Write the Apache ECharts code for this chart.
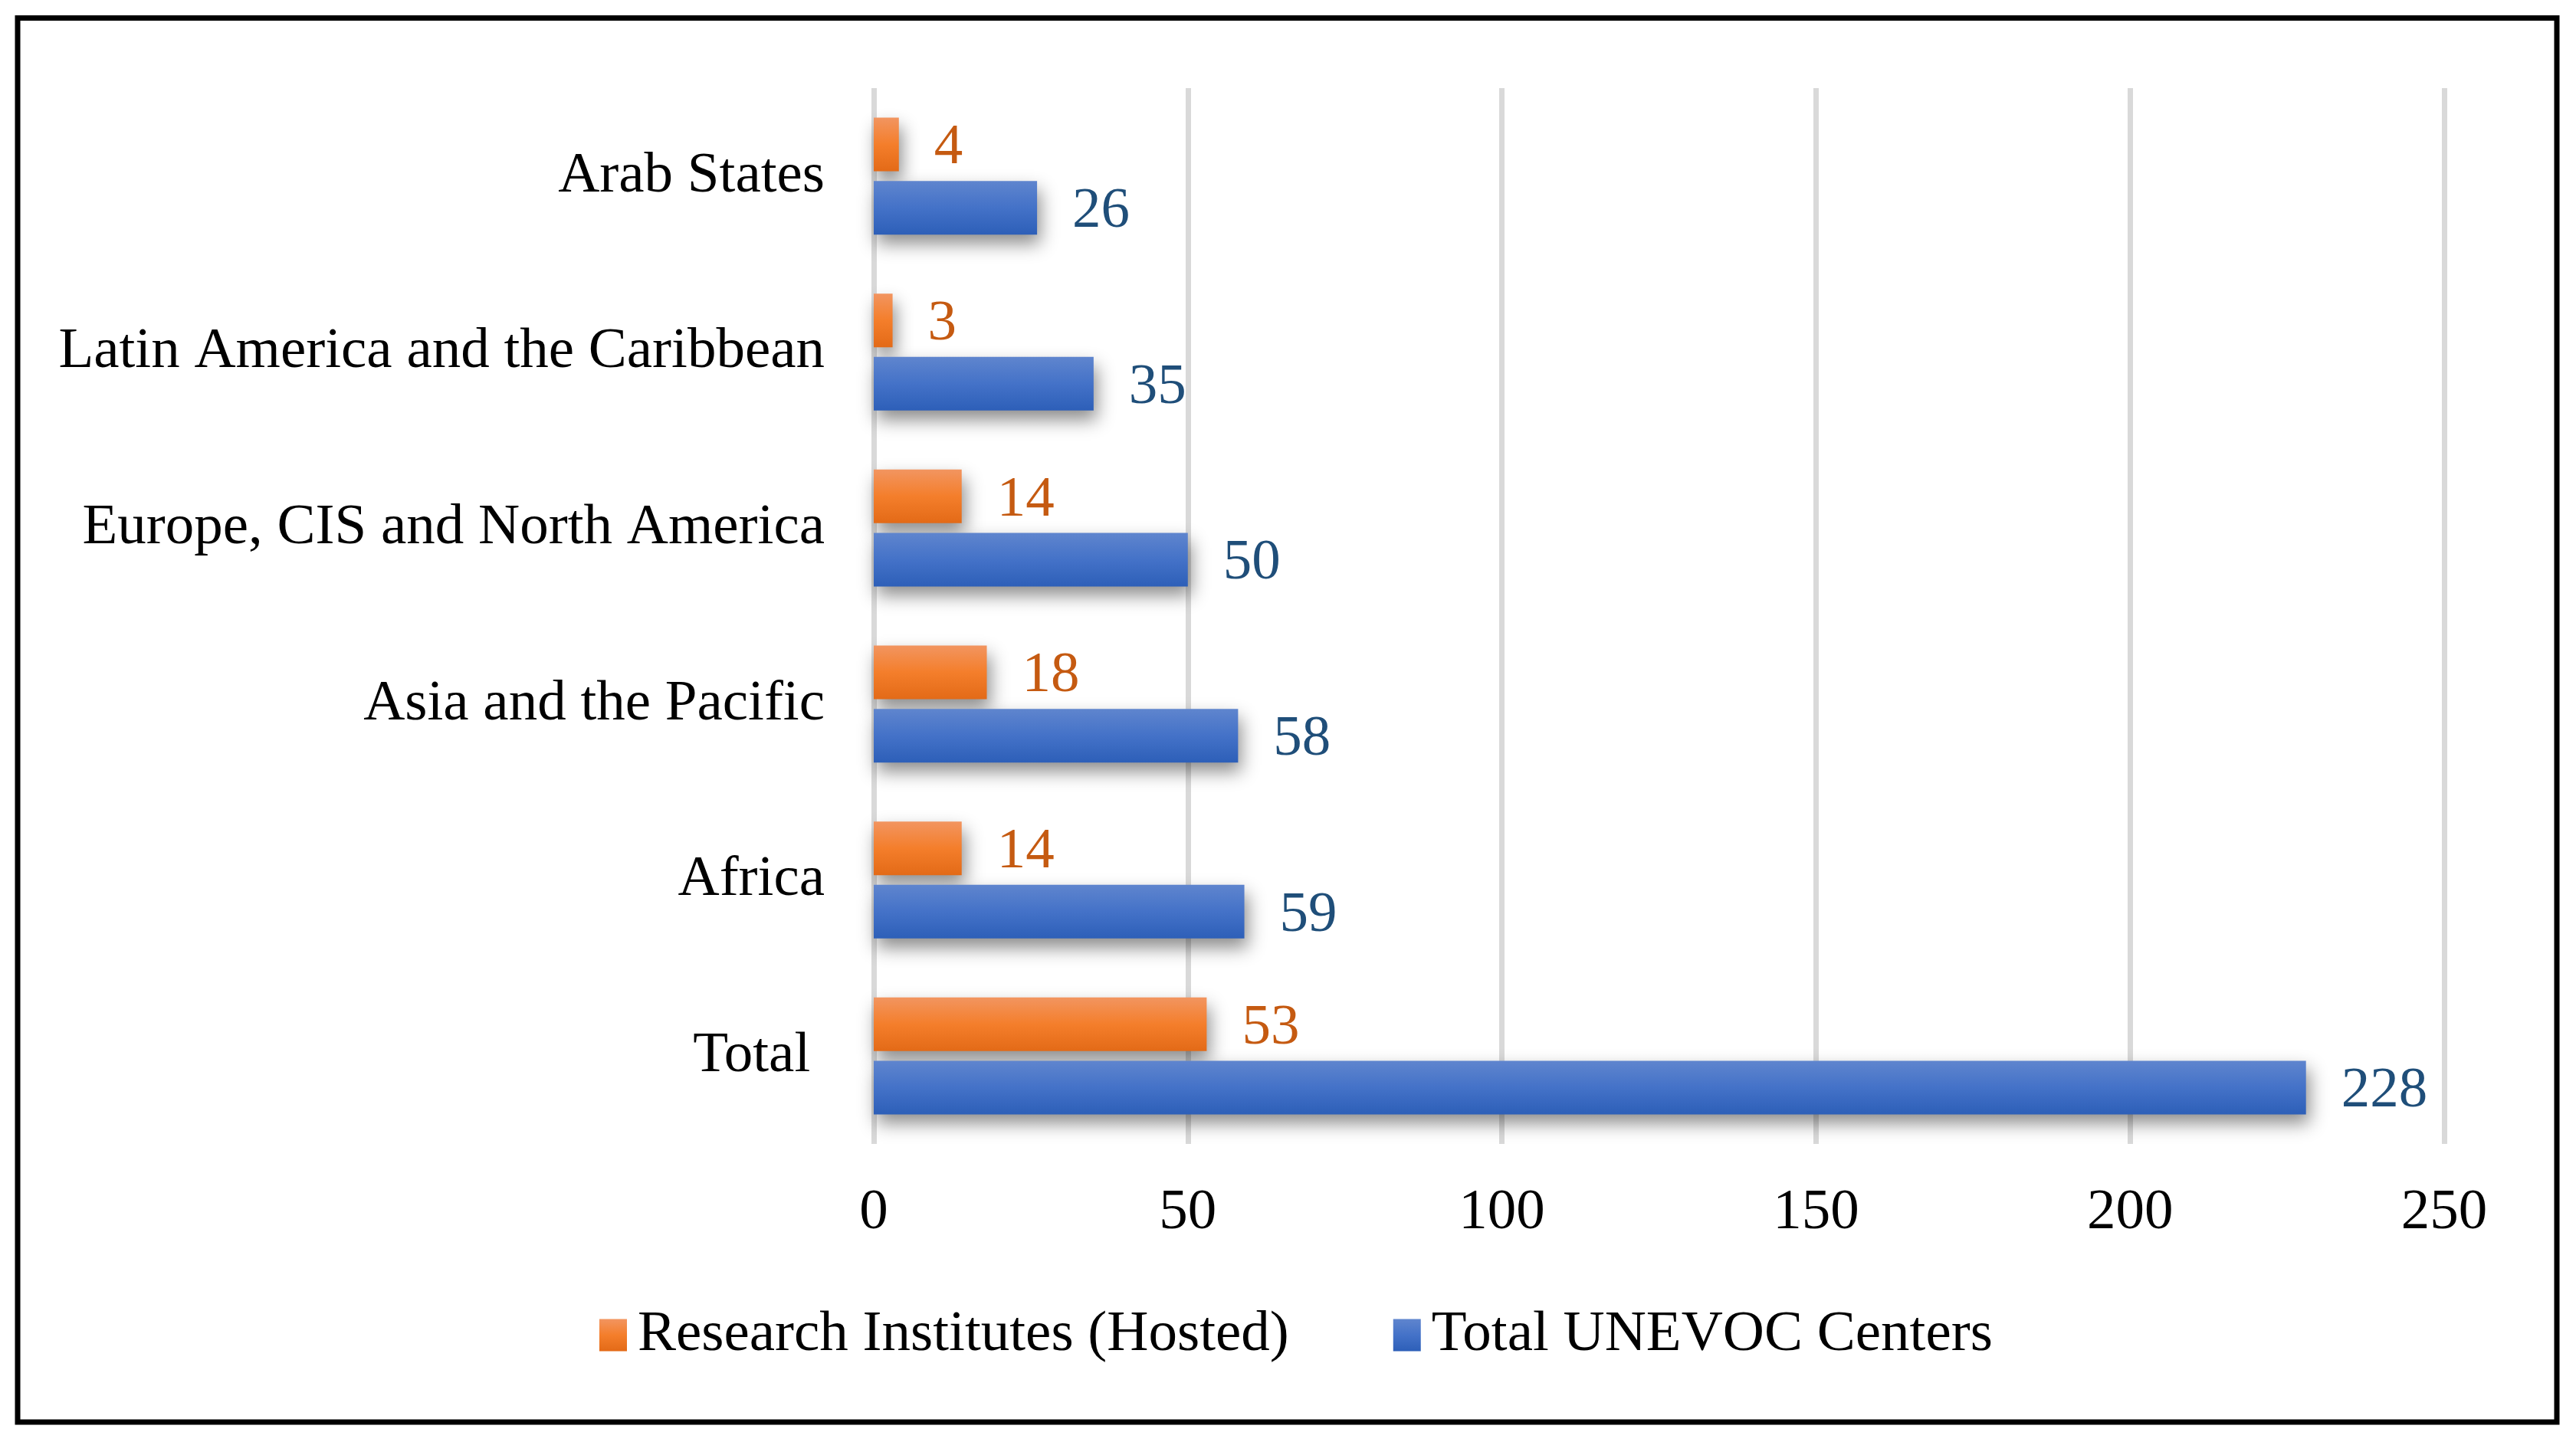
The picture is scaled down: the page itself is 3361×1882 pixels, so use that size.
<!DOCTYPE html>
<html>
<head>
<meta charset="utf-8">
<script src="https://cdn.jsdelivr.net/npm/echarts@6/dist/echarts.min.js"></script>
<style>
html,body{margin:0;padding:0;background:#fff;}
#chart{width:3361px;height:1882px;}
</style>
</head>
<body>
<div id="chart"></div>
<script>
const categories = ['Total ', 'Africa', 'Asia and the Pacific', 'Europe, CIS and North America', 'Latin America and the Caribbean', 'Arab States'];
const researchInstitutes = [53, 14, 18, 14, 3, 4];
const totalCenters = [228, 59, 58, 50, 35, 26];
const xTicks = { min: 0, max: 250, interval: 50 };
const seriesNames = ['Research Institutes (Hosted)', 'Total UNEVOC Centers'];

const FONT = '"Liberation Serif", "Times New Roman", serif';
const chart = echarts.init(document.getElementById('chart'));

const orangeGrad = new echarts.graphic.LinearGradient(0, 0, 0, 1, [
  { offset: 0, color: '#F29560' },
  { offset: 0.5, color: '#F47E2B' },
  { offset: 1, color: '#E36A17' }
]);
const blueGrad = new echarts.graphic.LinearGradient(0, 0, 0, 1, [
  { offset: 0, color: '#5F85CE' },
  { offset: 0.5, color: '#4472C8' },
  { offset: 1, color: '#2D5FB8' }
]);

chart.setOption({
  backgroundColor: '#fff',
  animation: false,
  graphic: [{
    type: 'rect',
    shape: { x: 23, y: 23.5, width: 3313, height: 1832.5 },
    style: { fill: 'none', stroke: '#000', lineWidth: 7 },
    z: 100
  }],
  grid: { left: 1140, right: 172, top: 115, bottom: 389, containLabel: false },
  legend: {
    data: seriesNames,
    left: 777,
    top: 1700,
    itemWidth: 36,
    itemHeight: 42,
    itemGap: 136,
    icon: 'rect',
    textStyle: { fontFamily: FONT, fontSize: 75, color: '#000', padding: [0, 0, 0, 9] }
  },
  xAxis: {
    type: 'value',
    min: xTicks.min, max: xTicks.max, interval: xTicks.interval,
    axisLine: { show: false },
    axisTick: { show: false },
    splitLine: { show: true, lineStyle: { color: '#d9d9d9', width: 7 } },
    axisLabel: { fontFamily: FONT, fontSize: 75, color: '#000', margin: 53 }
  },
  yAxis: {
    type: 'category',
    data: categories,
    axisLine: { show: false },
    axisTick: { show: false },
    splitLine: { show: false },
    axisLabel: { fontFamily: FONT, fontSize: 75, color: '#000', margin: 64, padding: [8, 0, 0, 0] }
  },
  series: [
    {
      name: seriesNames[0],
      type: 'bar',
      data: researchInstitutes,
      barWidth: 70,
      barGap: '18%',
      itemStyle: { color: orangeGrad, shadowColor: 'rgba(0,0,0,0.45)', shadowBlur: 22, shadowOffsetX: 4, shadowOffsetY: 12 },
      label: { show: true, position: 'right', distance: 46, offset: [0, 5], fontFamily: FONT, fontSize: 75, color: '#C55A11' }
    },
    {
      name: seriesNames[1],
      type: 'bar',
      data: totalCenters,
      barWidth: 70,
      barGap: '18%',
      itemStyle: { color: blueGrad, shadowColor: 'rgba(0,0,0,0.45)', shadowBlur: 22, shadowOffsetX: 4, shadowOffsetY: 12 },
      label: { show: true, position: 'right', distance: 46, offset: [0, 5], fontFamily: FONT, fontSize: 75, color: '#1F4E79' }
    }
  ]
});
</script>
</body>
</html>
